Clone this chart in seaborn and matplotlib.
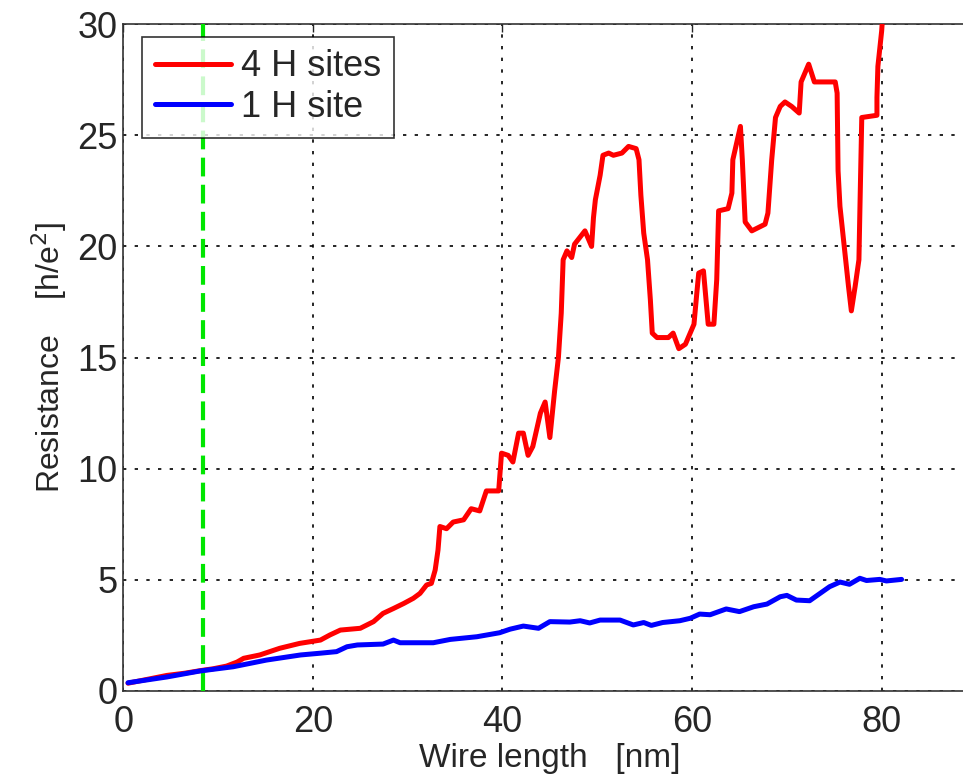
import numpy as np
import pandas as pd
import seaborn as sns
import matplotlib.pyplot as plt

#%% data

red_x = [0.5, 2.5, 4.6, 6.5, 8.2, 9.5, 10.9, 12.0, 12.7, 14.4, 16.5, 18.6, 20.8, 21.8, 22.9,
         25.0, 26.4, 27.4, 28.5, 29.6, 30.6, 31.3, 32.0, 32.5, 32.9, 33.2, 33.4, 34.1, 34.8,
         35.9, 36.7, 37.6, 38.3, 39.6, 39.9, 40.6, 41.1, 41.7, 42.2, 42.7, 43.2, 44.0, 44.5,
         45.0, 45.5, 45.9, 46.2, 46.4, 46.8, 47.3, 47.6, 48.7, 49.4, 49.6, 49.8, 50.3, 50.6,
         51.2, 51.7, 52.6, 53.3, 54.1, 54.4, 54.6, 54.9, 55.3, 55.6, 55.8, 56.3, 57.5, 58.0,
         58.6, 59.3, 60.2, 60.5, 60.7, 61.2, 61.7, 62.3, 62.6, 62.8, 63.8, 64.2, 64.3, 65.1,
         65.3, 65.6, 66.3, 67.7, 68.0, 68.4, 68.8, 69.3, 69.8, 70.5, 71.3, 71.5, 72.3, 72.9,
         74.4, 75.1, 75.3, 75.4, 75.6, 76.1, 76.5, 76.8, 77.2, 77.6, 77.7, 77.9, 79.5, 79.5,
         79.6, 80.0, 80.2]
red_y = [0.35, 0.52, 0.70, 0.80, 0.92, 1.00, 1.12, 1.30, 1.47, 1.62, 1.92, 2.14, 2.29, 2.52, 2.74,
         2.82, 3.12, 3.49, 3.71, 3.94, 4.17, 4.39, 4.77, 4.84, 5.44, 6.34, 7.4, 7.3, 7.6,
         7.7, 8.2, 8.1, 9.0, 9.0, 10.7, 10.6, 10.3, 11.6, 11.6, 10.6, 11.0, 12.5, 13.0,
         11.4, 13.5, 15.0, 17.0, 19.4, 19.8, 19.5, 20.1, 20.7, 20.0, 21.3, 22.1, 23.2, 24.1,
         24.2, 24.1, 24.2, 24.5, 24.4, 23.9, 22.3, 20.6, 19.4, 17.6, 16.1, 15.9, 15.9, 16.1,
         15.4, 15.6, 16.5, 17.9, 18.8, 18.9, 16.5, 16.5, 18.5, 21.6, 21.7, 22.4, 23.9, 25.4,
         23.9, 21.1, 20.7, 21.0, 21.5, 23.9, 25.8, 26.3, 26.5, 26.3, 26.0, 27.4, 28.2, 27.4,
         27.4, 27.4, 26.9, 23.4, 21.8, 19.8, 18.2, 17.1, 18.2, 19.4, 21.6, 25.8, 25.9, 26.7,
         28.1, 29.7, 31.0]

blue_x = [0.5, 4.6, 8.1, 11.6, 15.1, 18.7, 20.8, 22.5, 23.6, 24.7, 27.4, 28.5, 29.2, 32.7,
          34.5, 37.3, 39.7, 40.8, 42.2, 43.8, 45.0, 47.1, 48.2, 49.2, 50.3, 52.4, 53.8, 54.9,
          55.7, 56.9, 58.7, 59.8, 60.8, 61.9, 63.6, 65.0, 66.5, 67.9, 69.3, 70.0, 71.0, 72.4,
          73.5, 74.5, 75.6, 76.6, 77.7, 78.4, 79.8, 80.5, 82.1]
blue_y = [0.37, 0.63, 0.90, 1.09, 1.39, 1.62, 1.70, 1.77, 1.99, 2.07, 2.11, 2.29, 2.17, 2.17,
          2.32, 2.44, 2.62, 2.78, 2.92, 2.82, 3.12, 3.10, 3.16, 3.06, 3.19, 3.19, 2.97, 3.08,
          2.95, 3.08, 3.16, 3.27, 3.46, 3.43, 3.69, 3.57, 3.79, 3.91, 4.24, 4.30, 4.09, 4.06,
          4.39, 4.69, 4.90, 4.80, 5.07, 4.97, 5.02, 4.95, 5.02]

marker_x = 8.4  # green dashed line position [nm]

#%% plot

sns.set_style('white')
plt.rcParams['font.family'] = ['Liberation Sans', 'DejaVu Sans']

fig = plt.figure(figsize=(9.63, 7.79), dpi=100)
ax = fig.add_axes([0.128, 0.113, 0.886, 0.856])

red_df = pd.DataFrame({'x': red_x, 'y': red_y})
blue_df = pd.DataFrame({'x': blue_x, 'y': blue_y})

ax.axvline(marker_x, color='#00e600', lw=3, dashes=(4.5, 2), zorder=3)
sns.lineplot(data=red_df, x='x', y='y', sort=False, estimator=None, color='#ff0000',
             lw=3.6, ax=ax, label='4 H sites', zorder=4)
sns.lineplot(data=blue_df, x='x', y='y', sort=False, estimator=None, color='#0000ff',
             lw=3.6, ax=ax, label='1 H site', zorder=5)

ax.set_xlim(0, 90)
ax.set_ylim(0, 30)
ax.set_xticks([0, 20, 40, 60, 80])
ax.set_yticks([0, 5, 10, 15, 20, 25, 30])
ax.grid(True, color='black', linestyle=(0, (2, 5)), lw=1.2)
ax.tick_params(direction='in', length=6, width=1, labelsize=26, top=True, right=False)
ax.tick_params(axis='x', pad=10)
ax.tick_params(axis='y', pad=4)
for s in ax.spines.values():
    s.set_color('#333333')
    s.set_linewidth(1.2)
ax.spines['right'].set_visible(False)

ax.set_xlabel('Wire length   [nm]', fontsize=24, labelpad=2)
ax.set_ylabel('Resistance    [h/e$^2$]', fontsize=23, labelpad=6)

leg = ax.legend(loc='upper left', bbox_to_anchor=(0.022, 0.981), borderaxespad=0,
                fontsize=26, frameon=True, fancybox=False, handlelength=2.1,
                handletextpad=0.3, labelspacing=0.15, borderpad=0.35)
leg.get_frame().set_edgecolor('black')
leg.get_frame().set_linewidth(1.2)
for h in leg.get_lines():
    h.set_linewidth(3.6)

plt.savefig('out.png', dpi=100)
